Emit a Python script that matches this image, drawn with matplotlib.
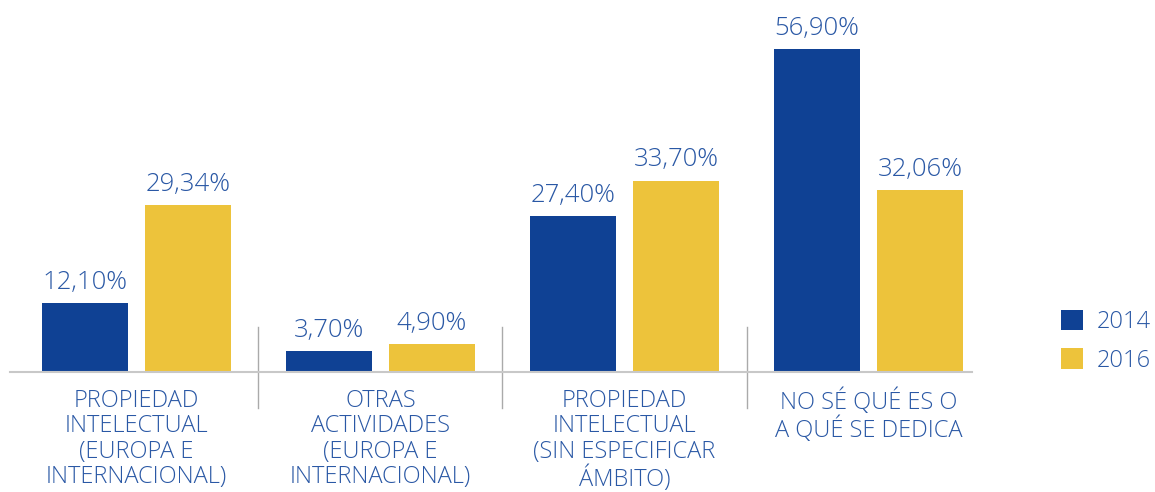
import matplotlib
matplotlib.use("Agg")
import matplotlib.pyplot as plt
import numpy as np

categories = ["PROPIEDAD\nINTELECTUAL\n(EUROPA E\nINTERNACIONAL)",
              "OTRAS\nACTIVIDADES\n(EUROPA E\nINTERNACIONAL)",
              "PROPIEDAD\nINTELECTUAL\n(SIN ESPECIFICAR\nÁMBITO)",
              "NO SÉ QUÉ ES O\nA QUÉ SE DEDICA"]
series_names = ["2014", "2016"]
values_2014 = [12.10, 3.70, 27.40, 56.90]
values_2016 = [29.34, 4.90, 33.70, 32.06]

BLUE = "#0f4194"
YELLOW = "#edc33b"
TEXT = "#2a58a5"
FONT = ["Open Sans", "DejaVu Sans"]

W, H = 1155, 492
fig = plt.figure(figsize=(W / 100, H / 100), dpi=100)
ax = fig.add_axes([10 / W, (H - 372) / H, (972 - 10) / W, (372 - 20) / H])

x = np.arange(len(categories))
bw = 0.352
off = 0.211
b1 = ax.bar(x - off, values_2014, bw, color=BLUE, label=series_names[0])
b2 = ax.bar(x + off, values_2016, bw, color=YELLOW, label=series_names[1])

ax.set_xlim(-0.518, 3.424)
ax.set_ylim(0, 62)

def fmt(v):
    return f"{v:.2f}".replace(".", ",") + "%"

for bars, vals in ((b1, values_2014), (b2, values_2016)):
    for r, v in zip(bars, vals):
        ax.annotate(fmt(v), (r.get_x() + r.get_width() / 2, v), xytext=(0, 6),
                    textcoords="offset points", ha="center", va="bottom",
                    fontsize=18.5, color=TEXT, family=FONT, fontweight="light")

for i, c in enumerate(categories):
    ax.annotate(c, (i, 0), xytext=(0, -12), textcoords="offset points",
                ha="center", va="top", fontsize=17, color=TEXT, family=FONT,
                fontweight="light", linespacing=1.08, annotation_clip=False)

for s in (0.5, 1.5, 2.5):
    ax.plot([s, s], [7.9, -6.3], color="#aaaaaa", lw=1, clip_on=False)

for sp in ("top", "right", "left"):
    ax.spines[sp].set_visible(False)
ax.spines["bottom"].set_color("#c8c8c8")
ax.spines["bottom"].set_linewidth(1.5)
ax.set_xticks([])
ax.set_yticks([])

leg = fig.legend(handles=[b1, b2], labels=series_names, loc="upper left",
                 bbox_to_anchor=(1061 / W, 1 - 310 / H), frameon=False,
                 borderpad=0, borderaxespad=0,
                 handlelength=0.95, handleheight=0.95, handletextpad=0.55,
                 labelspacing=0.6, prop={"family": FONT, "size": 17, "weight": "light"})
for t in leg.get_texts():
    t.set_color(TEXT)

fig.savefig("out.png", dpi=100)
